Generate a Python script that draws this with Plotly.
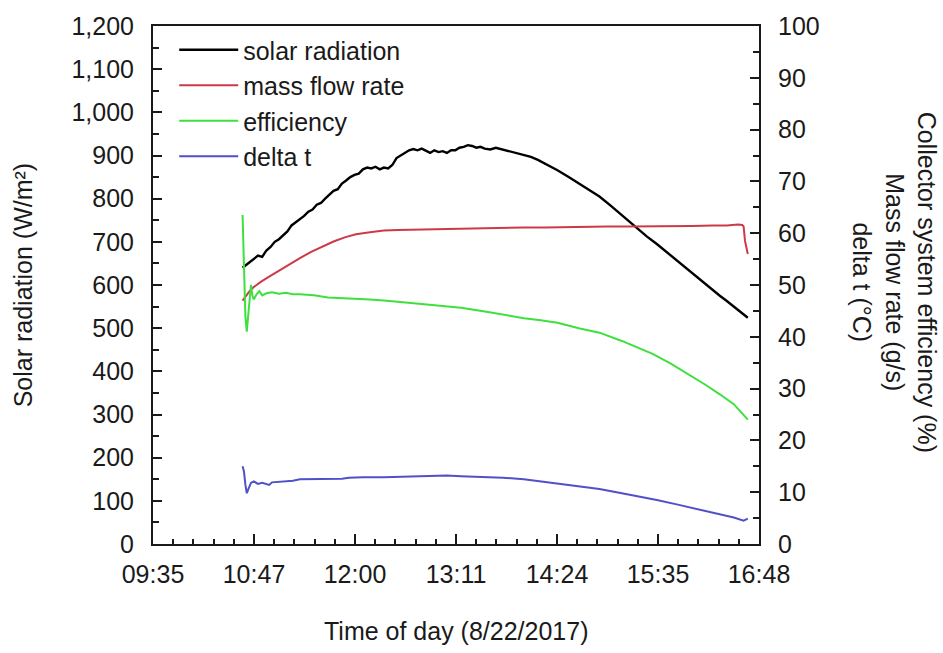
import plotly.graph_objects as go

# ---- data (time of day "HH:MM", values) ----
solar_time = ["10:39", "10:41", "10:44", "10:47", "10:50", "10:53", "10:56", "10:59", "11:02", "11:05",
              "11:08", "11:11", "11:14", "11:17", "11:20", "11:23", "11:26", "11:29", "11:32", "11:35",
              "11:38", "11:41", "11:44", "11:47", "11:50", "11:53", "11:56", "11:59", "12:02", "12:05",
              "12:08", "12:11", "12:14", "12:17", "12:20", "12:23", "12:26", "12:29", "12:32", "12:35",
              "12:38", "12:41", "12:44", "12:47", "12:50", "12:53", "12:56", "12:59", "13:02", "13:05",
              "13:08", "13:11", "13:14", "13:17", "13:20", "13:23", "13:26", "13:29", "13:32", "13:36",
              "13:40", "13:45", "13:50", "13:55", "14:00", "14:05", "14:10", "14:17", "14:24", "14:32",
              "14:40", "14:47", "14:54", "15:02", "15:10", "15:16", "15:21", "15:28", "15:35", "15:42",
              "15:50", "15:57", "16:05", "16:12", "16:20", "16:25", "16:30", "16:35", "16:40"]
solar_radiation = [640, 645, 652, 660, 668, 665, 680, 688, 700, 706,
                   716, 724, 738, 745, 752, 760, 770, 775, 786, 790,
                   800, 810, 818, 822, 835, 842, 850, 855, 858, 868,
                   872, 870, 874, 868, 872, 870, 878, 894, 900, 905,
                   912, 915, 912, 916, 910, 906, 912, 908, 910, 906,
                   912, 912, 918, 920, 924, 922, 918, 920, 916, 914,
                   918, 914, 910, 906, 902, 897, 890, 878, 866, 850,
                   834, 820, 805, 784, 762, 746, 730, 712, 695, 676,
                   655, 636, 615, 596, 575, 563, 550, 537, 524]

flow_time = ["10:39", "10:41", "10:44", "10:47", "10:52", "10:58", "11:05", "11:12", "11:20", "11:28",
             "11:36", "11:44", "11:52", "12:00", "12:10", "12:20", "12:30", "12:45", "13:00", "13:15",
             "13:30", "13:45", "14:00", "14:15", "14:30", "14:45", "15:00", "15:15", "15:30", "15:45",
             "16:00", "16:15", "16:25", "16:33", "16:36", "16:37", "16:38", "16:40"]
mass_flow_rate = [47.0, 47.8, 48.8, 49.6, 50.6, 51.6, 52.8, 54.0, 55.2, 56.4,
                  57.4, 58.4, 59.2, 59.8, 60.2, 60.5, 60.6, 60.7, 60.8, 60.9,
                  61.0, 61.0, 61.1, 61.1, 61.2, 61.2, 61.3, 61.3, 61.3, 61.4,
                  61.4, 61.5, 61.5, 61.7, 61.6, 61.3, 58.5, 56.0]

eff_time = ["10:39", "10:40", "10:41", "10:42", "10:43", "10:44", "10:45", "10:46", "10:47", "10:49",
            "10:51", "10:53", "10:56", "11:00", "11:05", "11:10", "11:15", "11:20", "11:30", "11:40",
            "11:50", "12:00", "12:10", "12:20", "12:30", "12:45", "13:00", "13:15", "13:30", "13:45",
            "14:00", "14:12", "14:24", "14:40", "14:54", "15:10", "15:20", "15:32", "15:45", "16:00",
            "16:10", "16:20", "16:30", "16:40"]
efficiency = [63.5, 55.0, 44.0, 41.0, 44.0, 48.5, 50.0, 48.0, 47.2, 48.2,
              48.8, 48.0, 48.4, 48.6, 48.3, 48.5, 48.2, 48.2, 48.0, 47.6,
              47.5, 47.3, 47.2, 47.0, 46.8, 46.4, 46.0, 45.6, 45.0, 44.3,
              43.6, 43.2, 42.7, 41.6, 40.8, 39.2, 38.1, 36.7, 34.8, 32.4,
              30.7, 28.9, 27.0, 24.0]

dt_time = ["10:39", "10:40", "10:41", "10:42", "10:43", "10:45", "10:47", "10:50", "10:53", "10:56",
           "10:58", "11:00", "11:05", "11:10", "11:15", "11:20", "11:30", "11:40", "11:50", "11:55",
           "12:05", "12:20", "12:35", "12:50", "13:05", "13:15", "13:30", "13:45", "14:00", "14:15",
           "14:30", "14:45", "14:54", "15:10", "15:20", "15:35", "15:50", "16:05", "16:20", "16:30",
           "16:37", "16:40"]
delta_t = [15.0, 14.0, 11.5, 9.8, 10.5, 11.8, 12.1, 11.6, 11.8, 11.5,
           11.4, 11.9, 12.0, 12.0, 12.2, 12.5, 12.5, 12.5, 12.6, 12.8,
           12.9, 12.9, 13.0, 13.1, 13.2, 13.1, 13.0, 12.8, 12.5, 12.0,
           11.5, 11.0, 10.6, 9.8, 9.3, 8.5, 7.6, 6.7, 5.8, 5.1,
           4.5, 4.9]

x_tick_labels = ["09:35", "10:47", "12:00", "13:11", "14:24", "15:35", "16:48"]


def to_minutes(hhmm):
    h, m = hhmm.split(":")
    return int(h) * 60 + int(m)


x_start = to_minutes(x_tick_labels[0])
x_end = to_minutes(x_tick_labels[-1])
n_int = len(x_tick_labels) - 1
x_step = (x_end - x_start) / n_int
x_tick_vals = [x_start + i * x_step for i in range(len(x_tick_labels))]

FONT = "Liberation Sans, Arial, sans-serif"
FS = 25
INK = "#1a1a1a"

fig = go.Figure()

series = [
    ("solar radiation", solar_time, solar_radiation, "#000000", "y", 2.4),
    ("mass flow rate", flow_time, mass_flow_rate, "#cc3a48", "y2", 2),
    ("efficiency", eff_time, efficiency, "#3ee03e", "y2", 2),
    ("delta t", dt_time, delta_t, "#5050c8", "y2", 2),
]
for name, t, v, col, ax, w in series:
    fig.add_trace(go.Scatter(
        x=[to_minutes(s) for s in t], y=v, name=name, mode="lines",
        line=dict(color=col, width=w), yaxis=ax,
    ))

axis_common = dict(
    showline=True, linecolor=INK, linewidth=2, showgrid=False, zeroline=False,
    ticks="inside", tickcolor=INK, tickwidth=1.5,
    tickfont=dict(family=FONT, size=FS, color=INK),
)

fig.update_layout(
    width=943, height=653,
    margin=dict(l=153, r=184, t=15, b=109),
    paper_bgcolor="white", plot_bgcolor="white",
    font=dict(family=FONT, size=FS, color=INK),
    xaxis=dict(
        range=[x_start, x_end], tickmode="array", tickvals=x_tick_vals, ticktext=x_tick_labels,
        ticklen=10, mirror=True, ticklabelstandoff=7,
        minor=dict(ticks="inside", dtick=x_step / 5, tick0=x_start, ticklen=5, tickcolor=INK, tickwidth=1.5),
        **axis_common,
    ),
    yaxis=dict(
        range=[0, 1200], dtick=100, tickformat=",", ticklen=9, mirror=True, ticklabelstandoff=12,
        minor=dict(ticks="inside", dtick=50, ticklen=6, tickcolor=INK, tickwidth=1.5),
        **axis_common,
    ),
    yaxis2=dict(
        range=[0, 100], dtick=10, overlaying="y", side="right", ticklen=9, ticklabelstandoff=12,
        minor=dict(ticks="inside", dtick=5, ticklen=6, tickcolor=INK, tickwidth=1.5),
        **axis_common,
    ),
    legend=dict(
        x=0.035, y=0.998, xanchor="left", yanchor="top", bgcolor="rgba(0,0,0,0)",
        font=dict(family=FONT, size=FS, color=INK), itemwidth=59, tracegroupgap=0,
    ),
    showlegend=True,
)

fig.add_annotation(
    text="Solar radiation (W/m²)", xref="paper", yref="paper",
    x=-0.214, y=0.5, xanchor="center", yanchor="middle", textangle=-90,
    showarrow=False, font=dict(family=FONT, size=FS, color=INK),
)
fig.add_annotation(
    text="Collector system efficiency (%)<br>Mass flow rate (g/s)<br>delta t (°C)",
    xref="paper", yref="paper", x=1.224, y=0.505, xanchor="center", yanchor="middle",
    textangle=90, showarrow=False, align="center",
    font=dict(family=FONT, size=FS, color=INK),
)
fig.add_annotation(
    text="Time of day (8/22/2017)", xref="paper", yref="paper",
    x=0.5, y=-0.168, xanchor="center", yanchor="middle",
    showarrow=False, font=dict(family=FONT, size=FS, color=INK),
)

fig.write_html("out.html")
